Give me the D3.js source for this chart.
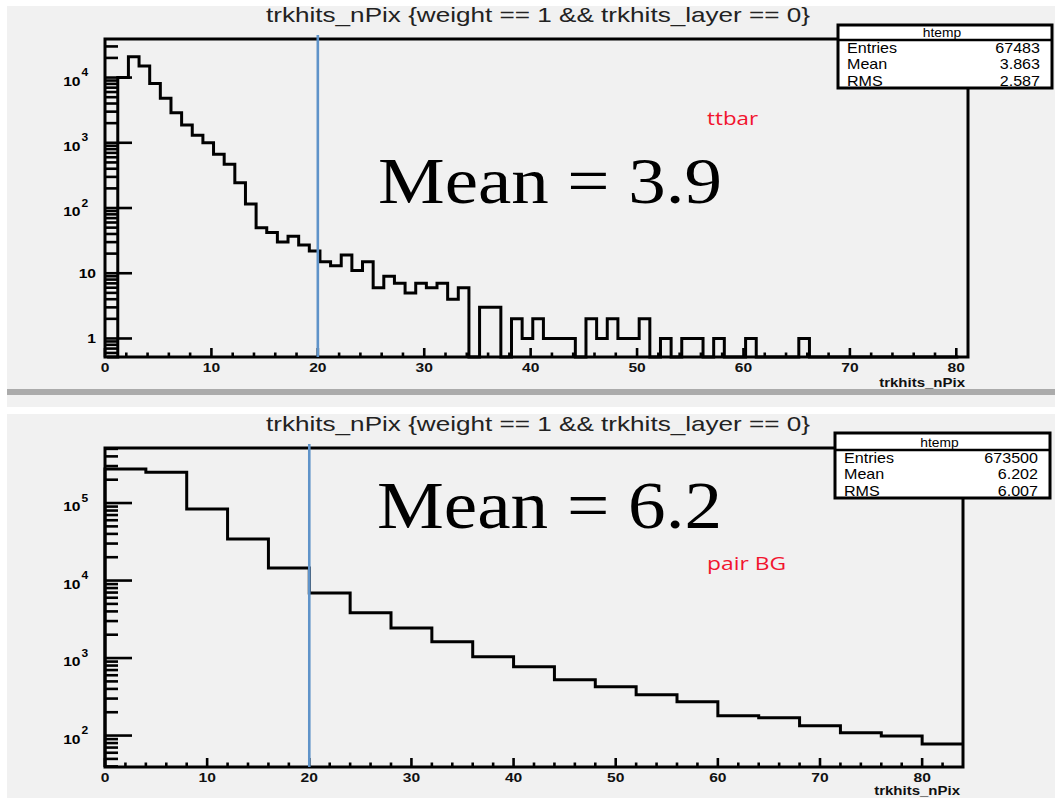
<!DOCTYPE html>
<html>
<head>
<meta charset="utf-8">
<script src="https://cdn.jsdelivr.net/npm/d3@7/dist/d3.min.js"></script>
<style>
  body { margin: 0; background: #fff; }
  svg { font-family: "Liberation Sans", Arial, Helvetica, sans-serif; }
</style>
</head>
<body>
<svg id="chart" width="1055" height="798"></svg>
<script>
// ttbar sample : unit bins, first low edge at 0.2
var ttbarStart = 0.2, ttbarBinWidth = 1;
var ttbarCounts = [0, 10000, 20800, 15000, 8100, 4800, 2880, 1870, 1310, 1000,
  670, 470, 244, 115, 50, 42, 30, 37, 27, 22,
  15, 13, 19, 11, 15, 6, 9, 7, 5, 7,
  6, 7, 4, 6, 0, 3, 3, 0, 2, 1,
  2, 1, 1, 1, 0, 2, 1, 2, 1, 1,
  2, 0, 1, 0, 1, 1, 0, 1, 0, 0,
  1, 0, 0, 0, 0, 1, 0, 0, 0, 0,
  0, 0, 0, 0, 0, 0, 0, 0, 0, 0];
var ttbarStats = [["Entries", "67483"], ["Mean", "3.863"], ["RMS", "2.587"]];

// pair background : 4 unit bins from 0
var pairStart = 0, pairBinWidth = 4;
var pairCounts = [275000, 249000, 84000, 34300, 14500, 6900, 3840, 2450, 1620, 1040,
  773, 525, 427, 337, 273, 180, 170, 134, 109, 99, 78];
var pairStats = [["Entries", "673500"], ["Mean", "6.202"], ["RMS", "6.007"]];

var titleText = "trkhits_nPix {weight == 1 && trkhits_layer == 0}";
var axisTitle = "trkhits_nPix";
var cutValue = 20;

var svg = d3.select("#chart");

// backgrounds (two pasted canvases)
svg.append("rect").attr("x", 7).attr("y", 6).attr("width", 1048).attr("height", 383).attr("fill", "#f1f1f1");
svg.append("rect").attr("x", 7).attr("y", 389).attr("width", 1048).attr("height", 6).attr("fill", "#ababab");
svg.append("rect").attr("x", 7).attr("y", 395).attr("width", 1048).attr("height", 12).attr("fill", "#f1f1f1");
svg.append("rect").attr("x", 7).attr("y", 414).attr("width", 1048).attr("height", 384).attr("fill", "#f1f1f1");

var panels = [
  {counts: ttbarCounts, start: ttbarStart, bw: ttbarBinWidth, stats: ttbarStats,
   left: 105, right: 968, top: 39, bottom: 357, xDomain: [0, 81.1], yDomain: [0.52, 39000],
   titleY: 22, box: {x: 838, y: 25, w: 214, h: 63, head: 15},
   mean: "Mean = 3.9", meanX: 378, meanY: 203, meanSize: 66, meanLen: 344,
   tag: "ttbar", tagX: 707, tagY: 125, tagLen: 51, xTitleY: 387},
  {counts: pairCounts, start: pairStart, bw: pairBinWidth, stats: pairStats,
   left: 105, right: 963, top: 448, bottom: 767, xDomain: [0, 84], yDomain: [39.3, 513000],
   titleY: 431, box: {x: 835, y: 433, w: 215, h: 65, head: 17},
   mean: "Mean = 6.2", meanX: 377, meanY: 528, meanSize: 68, meanLen: 345,
   tag: "pair BG", tagX: 707, tagY: 570, tagLen: 79, xTitleY: 795}
];

function stretch(sel, x, y, sx) {
  return sel.attr("transform", "translate(" + x + "," + y + ") scale(" + sx + ",1)");
}

panels.forEach(function(p) {
  var g = svg.append("g");
  var x = d3.scaleLinear().domain(p.xDomain).range([p.left, p.right]);
  var y = d3.scaleLog().domain(p.yDomain).range([p.bottom, p.top]).clamp(true);

  g.append("text")
    .attr("x", 538).attr("y", p.titleY)
    .attr("text-anchor", "middle")
    .attr("font-size", 21)
    .attr("fill", "#222")
    .attr("textLength", 544).attr("lengthAdjust", "spacingAndGlyphs")
    .text(titleText);

  // histogram outline
  var pts = [[x(p.start), p.bottom]];
  p.counts.forEach(function(c, i) {
    var lo = p.start + i * p.bw, hi = lo + p.bw;
    var yy = c > 0 ? y(c) : p.bottom;
    pts.push([x(lo), yy], [x(Math.min(hi, p.xDomain[1])), yy]);
  });
  g.append("path")
    .attr("d", d3.line()(pts))
    .attr("fill", "none")
    .attr("stroke", "#000")
    .attr("stroke-width", 3)
    .attr("stroke-linejoin", "miter");

  // y ticks (log)
  var yt = y.ticks().filter(function(v) { return v >= p.yDomain[0] && v <= p.yDomain[1]; });
  g.selectAll(".ytick").data(yt).enter().append("line")
    .attr("x1", p.left)
    .attr("x2", function(d) { return Math.abs(Math.log10(d) - Math.round(Math.log10(d))) < 1e-9 ? p.left + 27 : p.left + 13; })
    .attr("y1", function(d) { return y(d); })
    .attr("y2", function(d) { return y(d); })
    .attr("stroke", "#000").attr("stroke-width", 2.6);

  var decades = yt.filter(function(d) { return Math.abs(Math.log10(d) - Math.round(Math.log10(d))) < 1e-9; });
  decades.forEach(function(d) {
    var e = Math.round(Math.log10(d)), ty = y(d);
    if (e <= 1) {
      stretch(g.append("text"), 96, ty + 4.5, 1.25)
        .attr("text-anchor", "end").attr("font-size", 12.5).attr("font-weight", "bold")
        .text(String(d));
    } else {
      stretch(g.append("text"), 80.5, ty + 8, 1.25)
        .attr("text-anchor", "end").attr("font-size", 12.5).attr("font-weight", "bold")
        .text("10");
      stretch(g.append("text"), 81.5, ty - 1.5, 1.2)
        .attr("font-size", 10).attr("font-weight", "bold")
        .text(String(e));
    }
  });

  // x ticks
  var xt = d3.range(0, p.xDomain[1] - 1, 2);
  g.selectAll(".xtick").data(xt).enter().append("line")
    .attr("x1", function(d) { return x(d); })
    .attr("x2", function(d) { return x(d); })
    .attr("y1", p.bottom)
    .attr("y2", function(d) { return d % 10 === 0 ? p.bottom - 9 : p.bottom - 4.5; })
    .attr("stroke", "#000").attr("stroke-width", 2.6);

  xt.filter(function(d) { return d % 10 === 0; }).forEach(function(d) {
    stretch(g.append("text"), x(d), p.bottom + 15, 1.25)
      .attr("text-anchor", "middle").attr("font-size", 12.5).attr("font-weight", "bold")
      .attr("fill", "#111")
      .text(d);
  });

  stretch(g.append("text"), p.right - 3, p.xTitleY, 1.2)
    .attr("text-anchor", "end").attr("font-size", 12.5).attr("font-weight", "bold")
    .attr("fill", "#111")
    .text(axisTitle);

  // frame
  g.append("rect")
    .attr("x", p.left).attr("y", p.top)
    .attr("width", p.right - p.left).attr("height", p.bottom - p.top)
    .attr("fill", "none").attr("stroke", "#000").attr("stroke-width", 3);

  // cut line
  g.append("line")
    .attr("x1", x(cutValue)).attr("x2", x(cutValue))
    .attr("y1", p.top - 4).attr("y2", p.bottom)
    .attr("stroke", "#5f93c9").attr("stroke-width", 2.6);

  g.append("text")
    .attr("x", p.meanX).attr("y", p.meanY)
    .style("font-family", "'Liberation Serif', 'Times New Roman', serif")
    .attr("font-size", p.meanSize)
    .attr("textLength", p.meanLen).attr("lengthAdjust", "spacingAndGlyphs")
    .attr("fill", "#000")
    .text(p.mean);

  g.append("text")
    .attr("x", p.tagX).attr("y", p.tagY)
    .style("font-family", "'Open Sans', 'Noto Sans', sans-serif")
    .attr("font-size", 19)
    .attr("textLength", p.tagLen).attr("lengthAdjust", "spacingAndGlyphs")
    .attr("fill", "#f2142e")
    .text(p.tag);

  // stats box
  var b = p.box;
  var sb = g.append("g");
  sb.append("rect").attr("x", b.x).attr("y", b.y).attr("width", b.w).attr("height", b.h)
    .attr("fill", "#fff");
  stretch(sb.append("text"), b.x + b.w / 2 - 3, b.y + b.head - 3, 1.15)
    .attr("text-anchor", "middle").attr("font-size", 12).text("htemp");
  sb.selectAll(".lab").data(p.stats).enter().append("text")
    .attr("transform", function(d, i) { return "translate(" + (b.x + 9) + "," + (b.y + b.head + 13 + i * 16.3) + ") scale(1.15,1)"; })
    .attr("font-size", 14)
    .text(function(d) { return d[0]; });
  sb.selectAll(".val").data(p.stats).enter().append("text")
    .attr("transform", function(d, i) { return "translate(" + (b.x + b.w - 12) + "," + (b.y + b.head + 13 + i * 16.3) + ") scale(1.15,1)"; })
    .attr("text-anchor", "end")
    .attr("font-size", 14)
    .text(function(d) { return d[1]; });
  sb.append("line").attr("x1", b.x).attr("x2", b.x + b.w)
    .attr("y1", b.y + b.head).attr("y2", b.y + b.head)
    .attr("stroke", "#000").attr("stroke-width", 2.5);
  sb.append("rect").attr("x", b.x).attr("y", b.y).attr("width", b.w).attr("height", b.h)
    .attr("fill", "none").attr("stroke", "#000").attr("stroke-width", 3);
});
</script>
</body>
</html>
